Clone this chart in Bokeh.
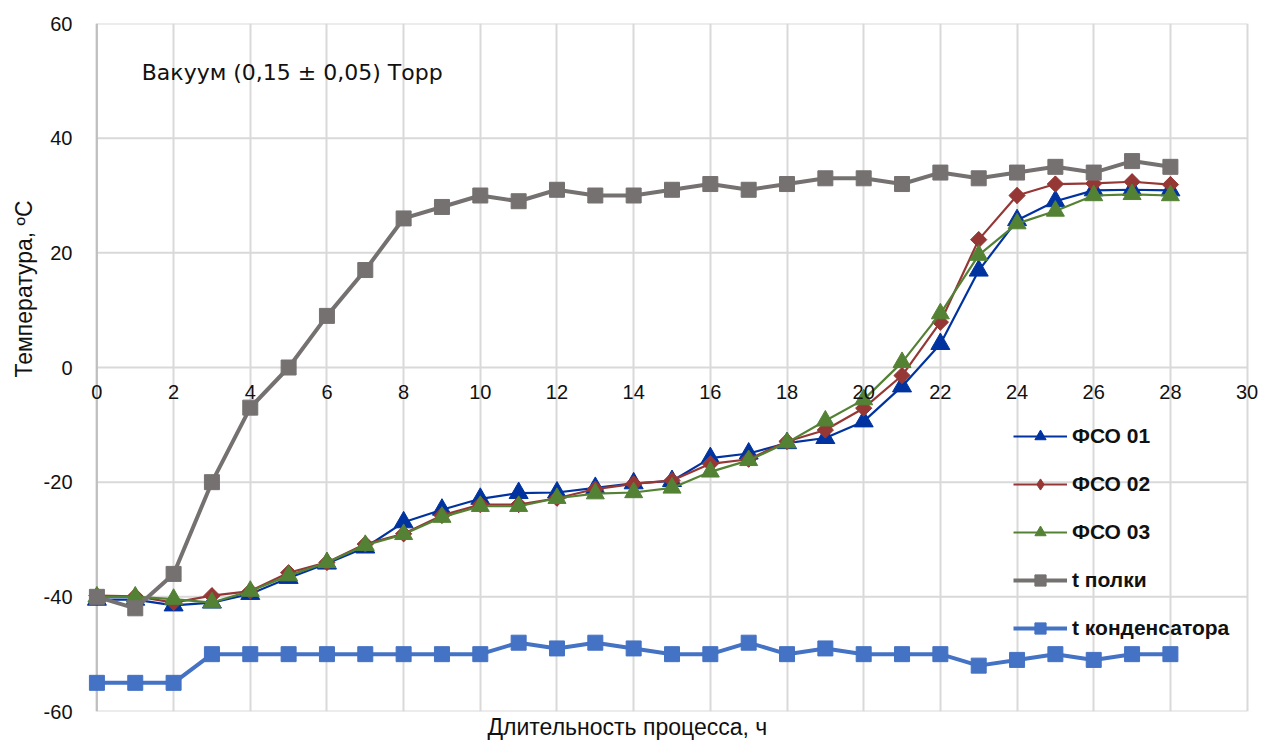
import math
from bokeh.plotting import figure
from bokeh.models import (ColumnDataSource, FixedTicker, Label, Legend, LegendItem,
                          Range1d, Title, Span)
from bokeh.embed import file_html
from bokeh.resources import INLINE

# ---- data ----
hours = [0, 1, 2, 3, 4, 5, 6, 7, 8, 9, 10, 11, 12, 13, 14, 15, 16, 17, 18, 19, 20,
         21, 22, 23, 24, 25, 26, 27, 28]
fso01 = [-40.5, -40.5, -41.5, -41, -39.5, -36.7, -34.2, -31.4, -27, -24.8, -22.9,
         -21.9, -21.8, -21, -20.2, -19.8, -15.8, -15, -13.2, -12.3, -9.4, -3.3,
         4.1, 16.9, 25.7, 29, 30.9, 31, 30.9]
fso02 = [-39.8, -39.9, -41, -39.8, -39, -35.8, -34, -30.8, -29, -25.8, -23.9,
         -23.9, -22.8, -21.2, -20.3, -19.7, -16.8, -16, -12.9, -10.9, -7.1, -1.4,
         7.9, 22.3, 30, 32, 32.1, 32.4, 31.9]
fso03 = [-40, -40, -40.4, -41, -39, -36.3, -34, -31, -29.1, -26.1, -24.2, -24.2,
         -22.8, -22, -21.8, -21, -18.2, -16.2, -13.1, -9.3, -5.6, 0.9, 9.4, 19.6,
         25.1, 27.3, 30, 30.2, 30]
t_shelf = [-40, -42, -36, -20, -7, 0, 9, 17, 26, 28, 30, 29, 31, 30, 30, 31, 32,
           31, 32, 33, 33, 32, 34, 33, 34, 35, 34, 36, 35]
t_cond = [-55, -55, -55, -50, -50, -50, -50, -50, -50, -50, -50, -48, -49, -48,
          -49, -50, -50, -48, -50, -49, -50, -50, -50, -52, -51, -50, -51, -50, -50]

x_min, x_max = 0, 30
y_min, y_max = -60, 60
x_ticks = [0, 2, 4, 6, 8, 10, 12, 14, 16, 18, 20, 22, 24, 26, 28, 30]
y_ticks = [-60, -40, -20, 0, 20, 40, 60]
y_tick_labels = ["-60", "-40", "-20", "0", "20", "40", "60"]

series_names = ["ФСО 01", "ФСО 02", "ФСО 03", "t полки", "t конденсатора"]
annotation_text = "Вакуум (0,15 ± 0,05) Торр"
x_title = "Длительность процесса, ч"
y_title = "Температура, ºC"

TXT = "#111111"
GRID = "#d9d9d9"
PAD = 0.35  # small horizontal padding so edge labels/markers are not clipped

# ---- figure ----
p = figure(width=1262, height=744, output_backend="svg", toolbar_location=None,
           x_range=Range1d(x_min - PAD, x_max + PAD), y_range=Range1d(y_min, y_max),
           min_border_left=83, min_border_right=2, min_border_top=23,
           min_border_bottom=33)
p.outline_line_color = None
p.background_fill_color = "white"
p.border_fill_color = "white"

# x axis sits on the zero line
xa = p.xaxis[0]
xa.fixed_location = 0
xa.ticker = FixedTicker(ticks=x_ticks)
xa.axis_line_color = None
xa.major_tick_line_color = None
xa.minor_tick_line_color = None
xa.major_label_text_font = "Liberation Sans"
xa.major_label_text_font_size = "20px"
xa.major_label_text_color = TXT
xa.major_label_standoff = 11

# vertical grid lines (full height), horizontal grid limited to the x span
p.xgrid.ticker = FixedTicker(ticks=x_ticks)
p.xgrid.grid_line_color = GRID
p.xgrid.grid_line_width = 2
p.ygrid.visible = False
hgrid = ColumnDataSource(dict(x0=[x_min] * len(y_ticks), x1=[x_max] * len(y_ticks),
                              y=y_ticks))
p.segment(x0="x0", x1="x1", y0="y", y1="y", source=hgrid, line_color=GRID,
          line_width=2, level="underlay")
p.add_layout(Span(location=x_min, dimension="height", line_color="#bfbfbf",
                  line_width=2, level="underlay"))

ya = p.yaxis[0]
ya.ticker = FixedTicker(ticks=y_ticks)
ya.major_label_overrides = {t: s for t, s in zip(y_ticks, y_tick_labels)}
ya.major_tick_line_color = None
ya.minor_tick_line_color = None
ya.axis_line_color = None
ya.major_label_text_font = "Liberation Sans"
ya.major_label_text_font_size = "20px"
ya.major_label_text_color = TXT
ya.major_label_standoff = 5

styles = [
    dict(color="#0033A0", marker="triangle", size=19, lw=2.2, angle=0,
         leg_marker="triangle"),
    dict(color="#953735", marker="square", size=11.5, lw=2.2, angle=math.pi / 4,
         leg_marker="diamond"),
    dict(color="#548235", marker="triangle", size=18, lw=2.2, angle=0,
         leg_marker="triangle"),
    dict(color="#767171", marker="square", size=15, lw=4, angle=0,
         leg_marker="square"),
    dict(color="#4472C4", marker="square", size=15, lw=4, angle=0,
         leg_marker="square"),
]
all_series = [fso01, fso02, fso03, t_shelf, t_cond]

items = []
for name, ys, st in zip(series_names, all_series, styles):
    src = ColumnDataSource(dict(x=hours, y=ys))
    lr = p.line("x", "y", source=src, line_color=st["color"], line_width=st["lw"])
    leg_r = None
    if st["leg_marker"] != st["marker"]:
        # diamond drawn under the wider rotated square; used for the legend swatch
        leg_r = p.scatter("x", "y", source=src, marker=st["leg_marker"], size=15.5,
                          fill_color=st["color"], line_color=st["color"])
    sr = p.scatter("x", "y", source=src, marker=st["marker"], size=st["size"],
                   angle=st["angle"], fill_color=st["color"], line_color=st["color"])
    items.append(LegendItem(label=name, renderers=[lr, leg_r or sr]))

legend = Legend(items=items, location=(930, 69), background_fill_alpha=0,
                border_line_color=None, padding=0, margin=0, spacing=20,
                glyph_width=54, glyph_height=28, label_height=28,
                label_standoff=5, label_text_font="Liberation Sans",
                label_text_font_size="21px", label_text_font_style="bold",
                label_text_color=TXT)
p.add_layout(legend)

p.add_layout(Label(x=1.17, y=51.5, text=annotation_text, text_font="DejaVu Sans",
                   text_font_size="22px", text_color=TXT,
                   text_baseline="middle", text_align="left"))

p.add_layout(Title(text=x_title, align="left", offset=404, vertical_align="bottom",
                   standoff=0, text_font="Liberation Sans", text_font_size="23px",
                   text_font_style="normal", text_color=TXT), "below")
p.add_layout(Title(text=y_title, align="left", offset=334, vertical_align="top",
                   standoff=4, text_font="Liberation Sans", text_font_size="23px",
                   text_font_style="normal", text_color=TXT), "left")

open("out.html", "w").write(file_html(p, INLINE))
